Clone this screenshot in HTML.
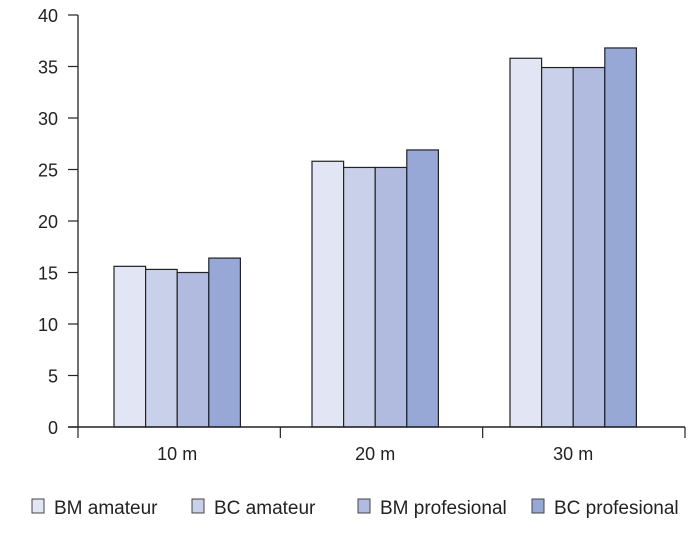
<!DOCTYPE html>
<html><head><meta charset="utf-8"><style>
body{margin:0;background:#fff;}
svg text{font-family:"Liberation Sans",sans-serif;fill:#222;}
</style></head><body>
<svg id="chart" width="700" height="540"></svg>
<script>
const categories=["10 m","20 m","30 m"];
const seriesNames=["BM amateur","BC amateur","BM profesional","BC profesional"];
const bmAmateur=[15.6,25.8,35.8];
const bcAmateur=[15.3,25.2,34.9];
const bmProf=[15.0,25.2,34.9];
const bcProf=[16.4,26.9,36.8];
const yTicks=[0,5,10,15,20,25,30,35,40];
const series=[bmAmateur,bcAmateur,bmProf,bcProf];
const colors=["#e2e5f3","#c9d0ea","#b1bbe0","#97a7d6"];
const NS="http://www.w3.org/2000/svg";
const svg=document.getElementById('chart');
function mk(t,a,p){const e=document.createElementNS(NS,t);for(const k in a)e.setAttribute(k,a[k]);(p||svg).appendChild(e);return e;}
const y0=427,y1=15,yMax=40;
const y=v=>y0-(v/yMax)*(y0-y1);
const xL=78,xR=685;
const groupStart=i=>114+i*198;
const barW=31.6;
const ya=mk('line',{x1:xL,y1:y1,x2:xL,y2:y0,stroke:'#222','stroke-width':1.3});


yTicks.forEach(t=>{
 const l=mk('line',{x1:xL-10,y1:y(t),x2:xL,y2:y(t),stroke:'#222','stroke-width':1.2});
 
 
 const tx=mk('text',{x:58,y:y(t)+7,'text-anchor':'end','font-size':18});
 tx.textContent=t;
 
 
});
categories.forEach((c,i)=>{
 series.forEach((s,j)=>{
  const b=mk('rect',{x:groupStart(i)+j*barW,y:y(s[i]),width:barW,height:y0-y(s[i]),fill:colors[j],stroke:'#222','stroke-width':1.2});
  
  
 });
});
const xa=mk('line',{x1:xL-10,y1:y0,x2:xR,y2:y0,stroke:'#222','stroke-width':1.5});


const bw=(xR-xL)/categories.length;
for(let i=0;i<=categories.length;i++){
 const tk=mk('line',{x1:xL+i*bw,y1:y0,x2:xL+i*bw,y2:y0+11,stroke:'#222','stroke-width':1.2});
 
 
}
categories.forEach((c,i)=>{
 const tx=mk('text',{x:groupStart(i)+2*barW,y:y0+33,'text-anchor':'middle','font-size':18});
 tx.textContent=c;
 
 
});
const lx=[32,192,358,532];
seriesNames.forEach((n,j)=>{
 const g=mk('g',{});
 
 
 mk('rect',{x:lx[j],y:499,width:12,height:14,fill:colors[j],stroke:'#444','stroke-width':1},g);
 const t=mk('text',{x:lx[j]+22,y:514,'font-size':19},g);
 t.textContent=n;
});
</script>
</body></html>
